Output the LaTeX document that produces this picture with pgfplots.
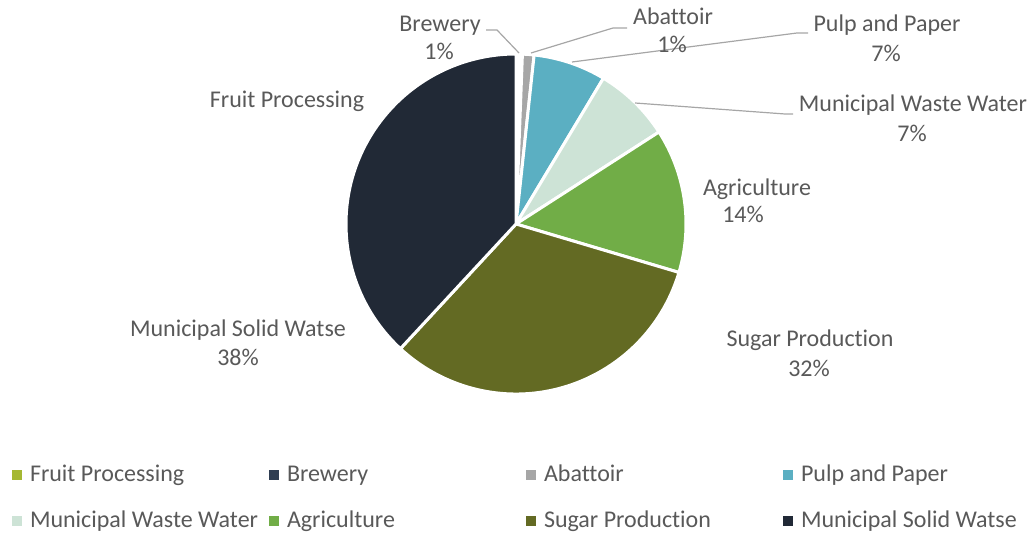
\documentclass[border=0pt]{standalone}
\usepackage{fontspec}
\setmainfont{Carlito}[Ligatures=CommonOff]
\usepackage{pgfplots}
\usepackage{pgfplotstable}
\pgfplotsset{compat=1.18}

\definecolor{cFruit}{HTML}{A5B832}
\definecolor{cBrew}{HTML}{2F3E52}
\definecolor{cAbat}{HTML}{A6A6A6}
\definecolor{cPulp}{HTML}{5BAFC2}
\definecolor{cMww}{HTML}{CDE3D6}
\definecolor{cAgri}{HTML}{71AD47}
\definecolor{cSugar}{HTML}{636A23}
\definecolor{cMsw}{HTML}{212936}
\definecolor{txt}{HTML}{595959}
\definecolor{lead}{HTML}{A6A6A6}

% shares in percent, clockwise from 12 o'clock
% (the brewery sliver is hidden under the white slice borders in the original)
\pgfplotstableread{
name   value col
Fruit  0.0   cFruit
Brew   0.6   white
Abat   1.1   cAbat
Pulp   6.9   cPulp
Mww    7.3   cMww
Agri   13.7  cAgri
Sugar  32.3  cSugar
Msw    38.1  cMsw
}\piedata
\pgfplotstablecreatecol[create col/expr accum={\pgfmathaccuma + \thisrow{value}}{0}]{cum}\piedata

\tikzset{lbl/.style={text=txt, font=\fontsize{12}{14}\selectfont, inner sep=0pt, anchor=base}}
\newcommand{\legtxt}[1]{\makebox[95pt][l]{#1}}

\begin{document}
\begin{tikzpicture}
\begin{axis}[
  hide axis,
  scale only axis,
  width=515.5pt, height=266.5pt,
  xmin=0, xmax=1031, ymin=0, ymax=533,
  y dir=reverse,
  clip=false,
  legend image code/.code={\fill[#1, draw=none] (0pt,-2.5pt) rectangle (5pt,2.5pt);},
  legend style={draw=none, fill=none, inner sep=0pt, outer sep=0pt,
    at={(axis cs:12,463)}, anchor=north west,
    legend columns=4, row sep=11pt,
    font=\fontsize{12}{14}\selectfont, text=txt,
    nodes={inner sep=0pt, text height=9pt, text depth=3pt},
    /tikz/every odd column/.append style={column sep=4pt},
    /tikz/every even column/.append style={column sep=24.5pt}},
]
\path (axis cs:0,0) rectangle (axis cs:1031,533);

\pgfplotsinvokeforeach{0,...,7}{
  \pgfplotstablegetelem{#1}{value}\of\piedata \let\pv\pgfplotsretval
  \pgfplotstablegetelem{#1}{cum}\of\piedata \let\pc\pgfplotsretval
  \pgfplotstablegetelem{#1}{col}\of\piedata \let\pk\pgfplotsretval
  \pgfmathsetmacro\aS{90-3.6*(\pc-\pv)}
  \pgfmathsetmacro\aE{90-3.6*\pc}
  \edef\wedge{\noexpand\filldraw[fill=\pk, draw=white, line width=1.5pt, line join=round]
    (axis cs:516,224) -- ++(\aS:85pt) arc[start angle=\aS, end angle=\aE, radius=85pt] -- cycle;}
  \wedge
}

% leader lines
\draw[lead, line width=0.6pt] (axis cs:486,30) -- (axis cs:497,30) -- (axis cs:519,53);
\draw[lead, line width=0.6pt] (axis cs:627,28) -- (axis cs:613,28) -- (axis cs:531,53);
\draw[lead, line width=0.6pt] (axis cs:808,33) -- (axis cs:797,33) -- (axis cs:572,62);
\draw[lead, line width=0.6pt] (axis cs:793,114) -- (axis cs:785,114) -- (axis cs:635,103);

% data labels (placed at their baselines)
\node[lbl] at (axis cs:440,32) {Brewery};
\node[lbl] at (axis cs:439,60) {1\%};
\node[lbl] at (axis cs:673,25) {Abattoir};
\node[lbl] at (axis cs:672,53) {1\%};
\node[lbl] at (axis cs:887,32) {Pulp and Paper};
\node[lbl] at (axis cs:886,62) {7\%};
\node[lbl] at (axis cs:913,112) {Municipal Waste Water};
\node[lbl] at (axis cs:912,142) {7\%};
\node[lbl] at (axis cs:757,196) {Agriculture};
\node[lbl] at (axis cs:743,223) {14\%};
\node[lbl] at (axis cs:810,347) {Sugar Production};
\node[lbl] at (axis cs:809,377) {32\%};
\node[lbl] at (axis cs:238,337) {Municipal Solid Watse};
\node[lbl] at (axis cs:238,365) {38\%};
\node[lbl] at (axis cs:287,108) {Fruit Processing};

\addlegendimage{fill=cFruit}
\addlegendimage{fill=cBrew}
\addlegendimage{fill=cAbat}
\addlegendimage{fill=cPulp}
\addlegendimage{fill=cMww}
\addlegendimage{fill=cAgri}
\addlegendimage{fill=cSugar}
\addlegendimage{fill=cMsw}
\legend{\legtxt{Fruit Processing}, \legtxt{Brewery}, \legtxt{Abattoir}, \legtxt{Pulp and Paper},
  \legtxt{Municipal Waste Water}, \legtxt{Agriculture}, \legtxt{Sugar Production}, \legtxt{Municipal Solid Watse}}
\end{axis}
\end{tikzpicture}
\end{document}
